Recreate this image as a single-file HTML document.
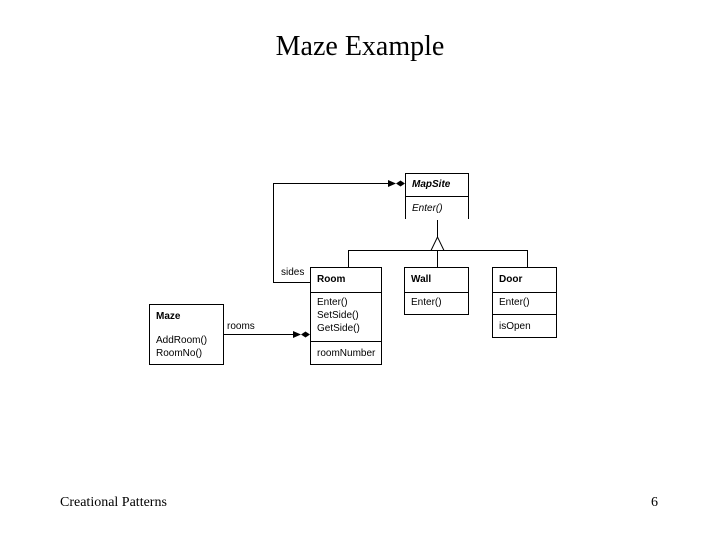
<!DOCTYPE html>
<html><head><style>
body{margin:0;width:720px;height:540px;background:#fff;position:relative;overflow:hidden;font-family:"Liberation Serif",serif;}
.t{position:absolute;white-space:nowrap;}
</style></head><body>
<div class="t" style="left:0;width:720px;text-align:center;top:31px;font-size:28px;">Maze Example</div>
<div class="t" style="left:60px;top:495px;font-size:14px;">Creational Patterns</div>
<div class="t" style="left:651px;top:495px;font-size:14px;">6</div>
<svg width="720" height="540" style="position:absolute;left:0;top:0" font-family="Liberation Sans, sans-serif" font-size="10">
<g fill="none" stroke="#000" stroke-width="1">
<path d="M405.5 219V173.5H468.5V219"/><path d="M405 196.5H468"/>
<rect x="310.5" y="267.5" width="71" height="97"/><path d="M310 292.5H381M310 341.5H381"/>
<rect x="404.5" y="267.5" width="64" height="47"/><path d="M404 292.5H468"/>
<rect x="492.5" y="267.5" width="64" height="70"/><path d="M492 292.5H556M492 314.5H556"/>
<rect x="149.5" y="304.5" width="74" height="60"/>
<path d="M437.5 220V237M348.5 267V250.5H527.5V267M437.5 250V267"/>
<path d="M431 250.5L437.5 237L444 250.5Z" fill="#fff"/>
<path d="M310 282.5H273.5V183.5H395"/>
<path d="M223 334.5H300"/>
</g>
<g fill="#000">
<path d="M388 180L396 183.5L388 187Z M396 183.5L400.5 180.5L405 183.5L400.5 186.5Z"/>
<path d="M293 331L301 334.5L293 338Z M301 334.5L305.5 331.5L310 334.5L305.5 337.5Z"/>
</g>
<text x="412" y="187" font-weight="bold" font-style="italic">MapSite</text>
<text x="412" y="211" font-style="italic">Enter()</text>
<text x="317" y="282" font-weight="bold">Room</text>
<text x="317" y="305">Enter()</text><text x="317" y="318">SetSide()</text><text x="317" y="331">GetSide()</text>
<text x="317" y="356">roomNumber</text>
<text x="411" y="282" font-weight="bold">Wall</text>
<text x="411" y="305">Enter()</text>
<text x="499" y="282" font-weight="bold">Door</text>
<text x="499" y="305">Enter()</text><text x="499" y="329">isOpen</text>
<text x="156" y="319" font-weight="bold">Maze</text>
<text x="156" y="343">AddRoom()</text><text x="156" y="356">RoomNo()</text>
<text x="281" y="275">sides</text>
<text x="227" y="329">rooms</text>
</svg>
</body></html>
